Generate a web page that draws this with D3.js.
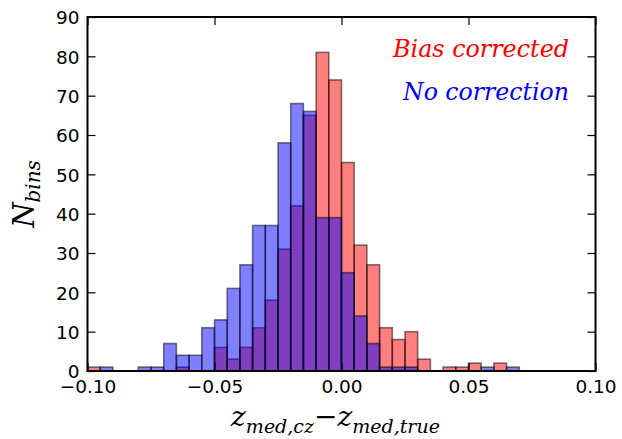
<!DOCTYPE html>
<html>
<head>
<meta charset="utf-8" />
<style>
html, body { margin: 0; padding: 0; background: #fff; }
svg { display: block; }
.tick text { font-family: "DejaVu Sans", sans-serif; font-size: 18.5px; fill: #000; }
.math { font-family: "DejaVu Serif", serif; font-style: italic; }
</style>
</head>
<body>
<svg width="622" height="439"></svg>
<script src="https://cdn.jsdelivr.net/npm/d3@7/dist/d3.min.js"></script>
<script>

// histogram bins (left edges start at binStart, each binWidth wide)
var binStart = -0.1;
var binWidth = 0.005;
var biasCorrected = [1,0,0,0,0,0,0,1,0,0,6,3,6,11,18,31,42,65,81,74,53,32,27,11,8,10,3,0,1,1,2,0,2,0];
var noCorrection  = [0,1,0,0,1,1,7,4,4,11,13,21,27,37,37,58,68,66,39,39,25,14,7,1,1,1,0,0,0,0,0,1,0,1];
var xTicks = [-0.10, -0.05, 0.00, 0.05, 0.10];
var yTicks = [0, 10, 20, 30, 40, 50, 60, 70, 80, 90];

var svg = d3.select('svg');
var margin = {left: 87.5, top: 17, right: 26.5, bottom: 68};
var w = 622 - margin.left - margin.right;
var h = 439 - margin.top - margin.bottom;

var x = d3.scaleLinear().domain([-0.1, 0.1]).range([0, w]);
var y = d3.scaleLinear().domain([0, 90]).range([h, 0]);

var stage = svg.append('g').attr('transform', 'translate(' + [margin.left, margin.top] + ')');

function bins(counts) {
	return counts.map(function(c, i) {
		var x0 = binStart + i * binWidth;
		return {x0: x0, x1: x0 + binWidth, n: c};
	}).filter(function(d) { return d.n > 0; });
}

function drawHist(counts, color) {
	stage.append('g').selectAll('rect')
		.data(bins(counts))
		.enter().append('rect')
		.attr('x', function(d) { return x(d.x0); })
		.attr('width', function(d) { return x(d.x1) - x(d.x0); })
		.attr('y', function(d) { return y(d.n); })
		.attr('height', function(d) { return y(0) - y(d.n); })
		.attr('fill', color)
		.attr('fill-opacity', 0.5)
		.attr('stroke', '#000')
		.attr('stroke-opacity', 0.5)
		.attr('stroke-width', 1.6);
}

// red drawn first, blue over it
drawHist(biasCorrected, '#ff0000');
drawHist(noCorrection, '#0000ff');

// axes, ticks pointing inward
var tickLen = 8;
var xb = stage.append('g').attr('transform', 'translate(0,' + h + ')')
	.call(d3.axisBottom(x).tickValues(xTicks).tickFormat(d3.format('.2f')).tickSizeInner(-tickLen).tickSizeOuter(0).tickPadding(9));
var xt = stage.append('g')
	.call(d3.axisTop(x).tickValues(xTicks).tickFormat('').tickSizeInner(-tickLen).tickSizeOuter(0));
var yl = stage.append('g')
	.call(d3.axisLeft(y).tickValues(yTicks).tickSizeInner(-tickLen).tickSizeOuter(0).tickPadding(8));
var yr = stage.append('g').attr('transform', 'translate(' + w + ',0)')
	.call(d3.axisRight(y).tickValues(yTicks).tickFormat('').tickSizeInner(-tickLen).tickSizeOuter(0));

[xb, xt, yl, yr].forEach(function(a) {
	a.select('.domain').remove();
	a.selectAll('.tick line').attr('stroke', '#000').attr('stroke-width', 1.2);
});
xb.selectAll('.tick text').attr('dy', '0.72em');
yl.selectAll('.tick text').attr('dy', '0.36em');

// frame
stage.append('rect')
	.attr('width', w).attr('height', h)
	.attr('fill', 'none').attr('stroke', '#000').attr('stroke-width', 2);

// legend-like labels
stage.append('text').attr('class', 'math')
	.attr('x', 481.5).attr('y', 40)
	.attr('text-anchor', 'end')
	.attr('font-size', 24).attr('fill', '#ff0000')
	.attr('textLength', 176).attr('lengthAdjust', 'spacingAndGlyphs')
	.text('Bias corrected');
stage.append('text').attr('class', 'math')
	.attr('x', 481.5).attr('y', 83)
	.attr('text-anchor', 'end')
	.attr('font-size', 24).attr('fill', '#0000ff')
	.attr('textLength', 166).attr('lengthAdjust', 'spacingAndGlyphs')
	.text('No correction');

// y label
var ylab = svg.append('text').attr('class', 'math')
	.attr('transform', 'translate(34,' + (margin.top + h / 2) + ') rotate(-90)')
	.attr('text-anchor', 'middle')
	.attr('font-size', 29);
ylab.append('tspan').text('N');
ylab.append('tspan').attr('font-size', 20).attr('dy', 6).text('bins');

// x label
var xlab = svg.append('text').attr('class', 'math')
	.attr('x', margin.left + w / 2 - 6).attr('y', 426)
	.attr('text-anchor', 'middle')
	.attr('font-size', 28);
xlab.append('tspan').text('z');
xlab.append('tspan').attr('font-size', 19).attr('dy', 7).text('med,cz');
xlab.append('tspan').attr('dy', -7).attr('font-style', 'normal').text('\u2212');
xlab.append('tspan').text('z');
xlab.append('tspan').attr('font-size', 19).attr('dy', 7).text('med,true');

</script>
</body>
</html>
